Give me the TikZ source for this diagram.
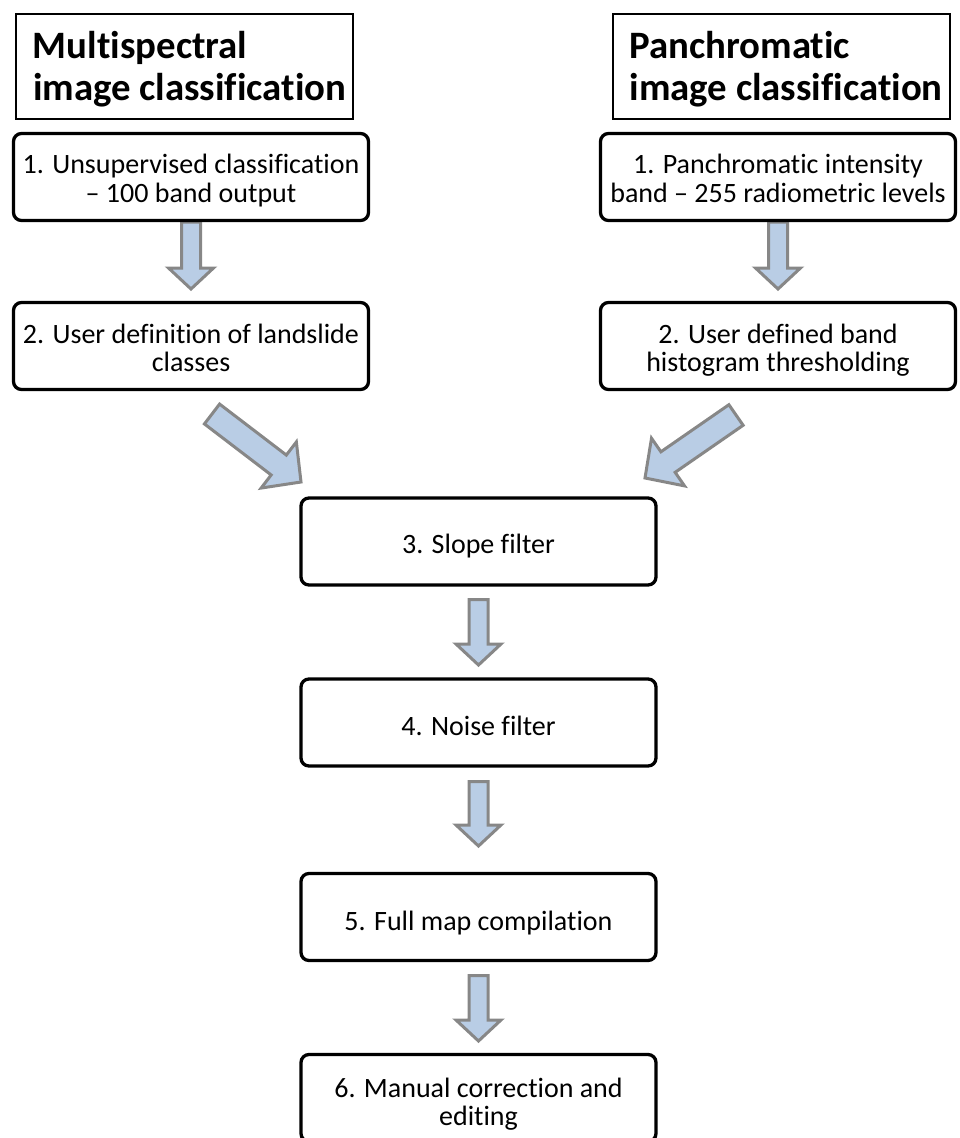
\documentclass[tikz,border=0pt]{standalone}
\usepackage{fontspec}
\setmainfont{Carlito}[RawFeature={-liga}]
\usetikzlibrary{calc,backgrounds}
\definecolor{arrowfill}{HTML}{B9CDE5}
\definecolor{arrowline}{HTML}{878787}
\tikzset{
  titlebox/.style={draw=black, line width=2pt, rectangle, inner sep=0pt,
    minimum width=337pt, minimum height=105pt,
    font=\fontsize{38.8}{42}\selectfont\bfseries},
  stepbox/.style={draw=black, line width=3.3pt, rounded corners=8pt,
    minimum width=355pt, minimum height=87pt, inner sep=0pt,
    font=\fontsize{28}{28.5}\selectfont, fill=white},
  fatarrow/.style={draw=arrowline, fill=arrowfill, line width=3pt, line join=miter}
}
% text placed with first baseline #1 above the node centre
\newcommand\boxtext[2]{\raisebox{#1}[0pt][0pt]{\begin{tabular}[t]{@{}c@{}}#2\end{tabular}}}
\newcommand\titletext[1]{\makebox[337pt][l]{\hspace*{17pt}\raisebox{8.5pt}[0pt][0pt]{\begin{tabular}[t]{@{}l@{}}#1\end{tabular}}}}
% #1 start, #2 tip, #3 shaft half width, #4 head half width, #5 head length
\newcommand\blockarrow[5]{%
  \coordinate (ba) at ($(#2)!#5!(#1)$);
  \draw[fatarrow] ($(#1)!#3!90:(#2)$) -- ($(ba)!#3!90:(#2)$) -- ($(ba)!#4!90:(#2)$)
    -- (#2) -- ($(ba)!#4!-90:(#2)$) -- ($(ba)!#3!-90:(#2)$) -- ($(#1)!#3!-90:(#2)$) -- cycle;}
\begin{document}
\begin{tikzpicture}[x=1pt,y=-1pt]
\useasboundingbox (0,0) rectangle (959,1138);
\clip (0,0) rectangle (959,1138);
\node[titlebox] (t1) at (184.5,66.5) {\titletext{Multispectral\\image classification}};
\node[titlebox] (t2) at (781,66.5) {\titletext{Panchromatic\\image classification}};
\node[stepbox] (m1) at (191,177) {\boxtext{3.5pt}{1. Unsupervised classification\\– 100 band output}};
\node[stepbox] (m2) at (191,346) {\boxtext{3pt}{2. User definition of landslide\\classes}};
\node[stepbox] (p1) at (778,177) {\boxtext{3.5pt}{1. Panchromatic intensity\\band – 255 radiometric levels}};
\node[stepbox] (p2) at (778,346) {\boxtext{3pt}{2. User defined band\\histogram thresholding}};
\node[stepbox] (s3) at (478.5,541.5) {\boxtext{-11.5pt}{3. Slope filter}};
\node[stepbox] (s4) at (478.5,722.5) {\boxtext{-12.5pt}{4. Noise filter}};
\node[stepbox] (s5) at (478.5,917) {\boxtext{-13pt}{5. Full map compilation}};
\node[stepbox] (s6) at (478.5,1098) {\boxtext{1pt}{6. Manual correction and\\editing}};
\coordinate (l1) at (m1.south |- 0,289);
\coordinate (r1) at (p1.south |- 0,289);
\coordinate (dl0) at (212,414);
\coordinate (dl1) at (301,482);
\coordinate (dr0) at (736,415);
\coordinate (dr1) at (645,478);
\coordinate (a3s) at (s3.south |- 0,599.5);
\coordinate (a3e) at (s3.south |- 0,665);
\coordinate (a4s) at (s4.south |- 0,781.5);
\coordinate (a4e) at (s4.south |- 0,846);
\coordinate (a5s) at (s5.south |- 0,975.5);
\coordinate (a5e) at (s5.south |- 0,1041);
\begin{scope}[on background layer]
\blockarrow{m1.south}{l1}{9.5pt}{22.5pt}{21pt}
\blockarrow{p1.south}{r1}{9.5pt}{22.5pt}{21pt}
\blockarrow{dl0}{dl1}{12.5pt}{29pt}{28pt}
\blockarrow{dr0}{dr1}{12.5pt}{29pt}{28pt}
\blockarrow{a3s}{a3e}{9.5pt}{22.5pt}{21pt}
\blockarrow{a4s}{a4e}{9.5pt}{22.5pt}{21pt}
\blockarrow{a5s}{a5e}{9.5pt}{22.5pt}{21pt}
\end{scope}
\end{tikzpicture}
\end{document}
